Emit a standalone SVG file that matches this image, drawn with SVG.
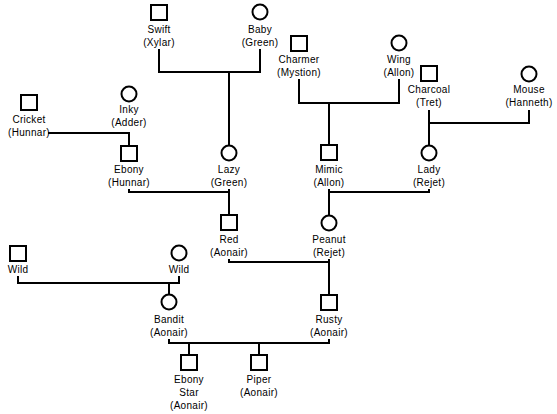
<svg xmlns="http://www.w3.org/2000/svg" width="557" height="414" viewBox="0 0 557 414">
<style>
.bg{fill:#fff}
.m{fill:#fff;stroke:#000;stroke-width:2}
.f{fill:#fff;stroke:#000;stroke-width:2}
.c{fill:none;stroke:#000;stroke-width:2;stroke-linecap:square}
text{font-family:"Liberation Sans",Arial,sans-serif;font-size:10px;fill:#000;text-anchor:middle;letter-spacing:0.3px}
</style>
<rect class="bg" x="0" y="0" width="557" height="414"/>
<g id="connectors">
<path class="c" d="M159 50V72H260V50M229 72V144"/>
<path class="c" d="M299 80V103H399V80M329 103V143"/>
<path class="c" d="M429 111V123H529V111M429 123V144"/>
<path class="c" d="M49 133H129V145"/>
<path class="c" d="M129 190V192H229V190M229 192V213"/>
<path class="c" d="M329 190V192H429V190M329 192V214"/>
<path class="c" d="M229 260V262H329V260M329 262V293"/>
<path class="c" d="M18 277V283H179V277M169 283V294"/>
<path class="c" d="M169 340V343H329V340M189 343V353M259 343V353"/>
</g>
<g id="swift"><rect class="m" x="151" y="5" width="16" height="15"/><text x="159" y="33">Swift</text><text x="159" y="46">(Xylar)</text></g>
<g id="baby"><circle class="f" cx="260" cy="12" r="7.5"/><text x="260" y="33">Baby</text><text x="260" y="46">(Green)</text></g>
<g id="charmer"><rect class="m" x="291" y="36" width="16" height="15"/><text x="299" y="63">Charmer</text><text x="299" y="76">(Mystion)</text></g>
<g id="wing"><circle class="f" cx="399" cy="43" r="7.5"/><text x="399" y="63">Wing</text><text x="399" y="76">(Allon)</text></g>
<g id="charcoal"><rect class="m" x="421" y="66" width="16" height="15"/><text x="429" y="93">Charcoal</text><text x="429" y="106">(Tret)</text></g>
<g id="mouse"><circle class="f" cx="529" cy="74" r="7.5"/><text x="529" y="93">Mouse</text><text x="529" y="106">(Hanneth)</text></g>
<g id="cricket"><rect class="m" x="21" y="95" width="16" height="15"/><text x="29" y="123">Cricket</text><text x="29" y="136">(Hunnar)</text></g>
<g id="inky"><circle class="f" cx="129" cy="94" r="7.5"/><text x="129" y="113">Inky</text><text x="129" y="126">(Adder)</text></g>
<g id="ebony"><rect class="m" x="121" y="146" width="16" height="15"/><text x="129" y="173">Ebony</text><text x="129" y="186">(Hunnar)</text></g>
<g id="lazy"><circle class="f" cx="229" cy="153" r="7.5"/><text x="229" y="173">Lazy</text><text x="229" y="186">(Green)</text></g>
<g id="mimic"><rect class="m" x="321" y="145" width="16" height="15"/><text x="329" y="173">Mimic</text><text x="329" y="186">(Allon)</text></g>
<g id="lady"><circle class="f" cx="429" cy="153" r="7.5"/><text x="429" y="173">Lady</text><text x="429" y="186">(Rejet)</text></g>
<g id="red"><rect class="m" x="221" y="215" width="16" height="15"/><text x="229" y="243">Red</text><text x="229" y="256">(Aonair)</text></g>
<g id="peanut"><circle class="f" cx="329" cy="223" r="7.5"/><text x="329" y="243">Peanut</text><text x="329" y="256">(Rejet)</text></g>
<g id="wild-m"><rect class="m" x="10" y="246" width="16" height="15"/><text x="18" y="273">Wild</text></g>
<g id="wild-f"><circle class="f" cx="179" cy="253" r="7.5"/><text x="179" y="273">Wild</text></g>
<g id="bandit"><circle class="f" cx="169" cy="302" r="7.5"/><text x="169" y="323">Bandit</text><text x="169" y="336">(Aonair)</text></g>
<g id="rusty"><rect class="m" x="321" y="295" width="16" height="15"/><text x="329" y="323">Rusty</text><text x="329" y="336">(Aonair)</text></g>
<g id="ebony-star"><rect class="m" x="181" y="355" width="16" height="15"/><text x="189" y="383">Ebony</text><text x="189" y="396">Star</text><text x="189" y="409">(Aonair)</text></g>
<g id="piper"><rect class="m" x="251" y="355" width="16" height="15"/><text x="259" y="383">Piper</text><text x="259" y="396">(Aonair)</text></g>
</svg>
